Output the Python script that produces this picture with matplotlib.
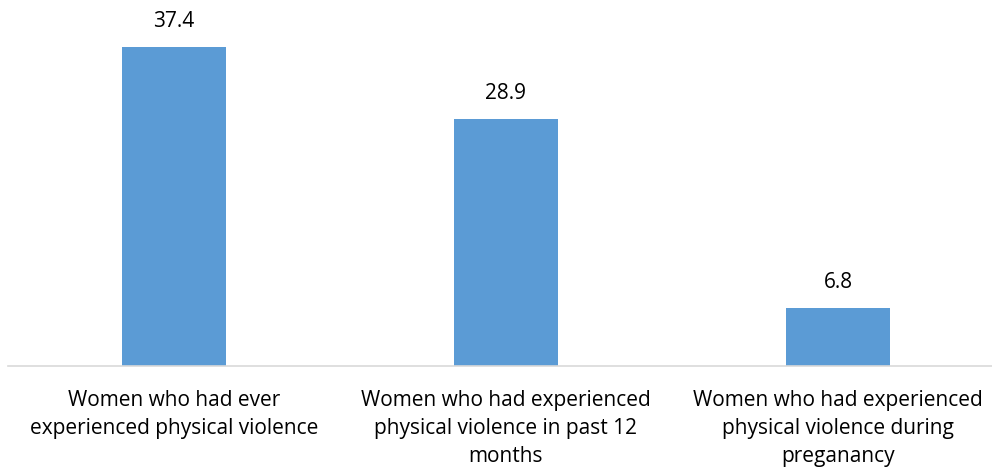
import matplotlib
matplotlib.use("Agg")
import matplotlib.pyplot as plt

categories = ["Women who had ever\nexperienced physical violence",
              "Women who had experienced\nphysical violence in past 12\nmonths",
              "Women who had experienced\nphysical violence during\npreganancy"]
values = [37.4, 28.9, 6.8]
value_labels = ["37.4", "28.9", "6.8"]

plt.rcParams['font.family'] = ['Open Sans', 'DejaVu Sans']

W, H = 992, 471
fig = plt.figure(figsize=(W/100, H/100), dpi=100)
base = 366
ymax = 40
ppu = 8.53
top_px = base - ymax*ppu
ax = fig.add_axes([8/W, (H-base)/H, 996/W, (base-top_px)/H])
x = range(len(values))
bars = ax.bar(x, values, width=0.313, color="#5B9BD5", zorder=2)
ax.set_xlim(-0.5, 2.5)
ax.set_ylim(0, ymax)
for xi, v, lab in zip(x, values, value_labels):
    ax.annotate(lab, (xi, v), xytext=(0, 11), textcoords="offset points",
                ha="center", va="bottom", fontsize=15, color="#000000")
ax.set_xticks(list(x))
ax.set_xticklabels(categories, fontsize=15, color="#000000", linespacing=1.45)
ax.tick_params(axis='x', length=0, pad=17)
ax.set_yticks([])
for s in ["top", "right", "left"]:
    ax.spines[s].set_visible(False)
ax.spines["bottom"].set_color("#D9D9D9")
ax.spines["bottom"].set_linewidth(1.2)
fig.savefig("out.png", dpi=100)
